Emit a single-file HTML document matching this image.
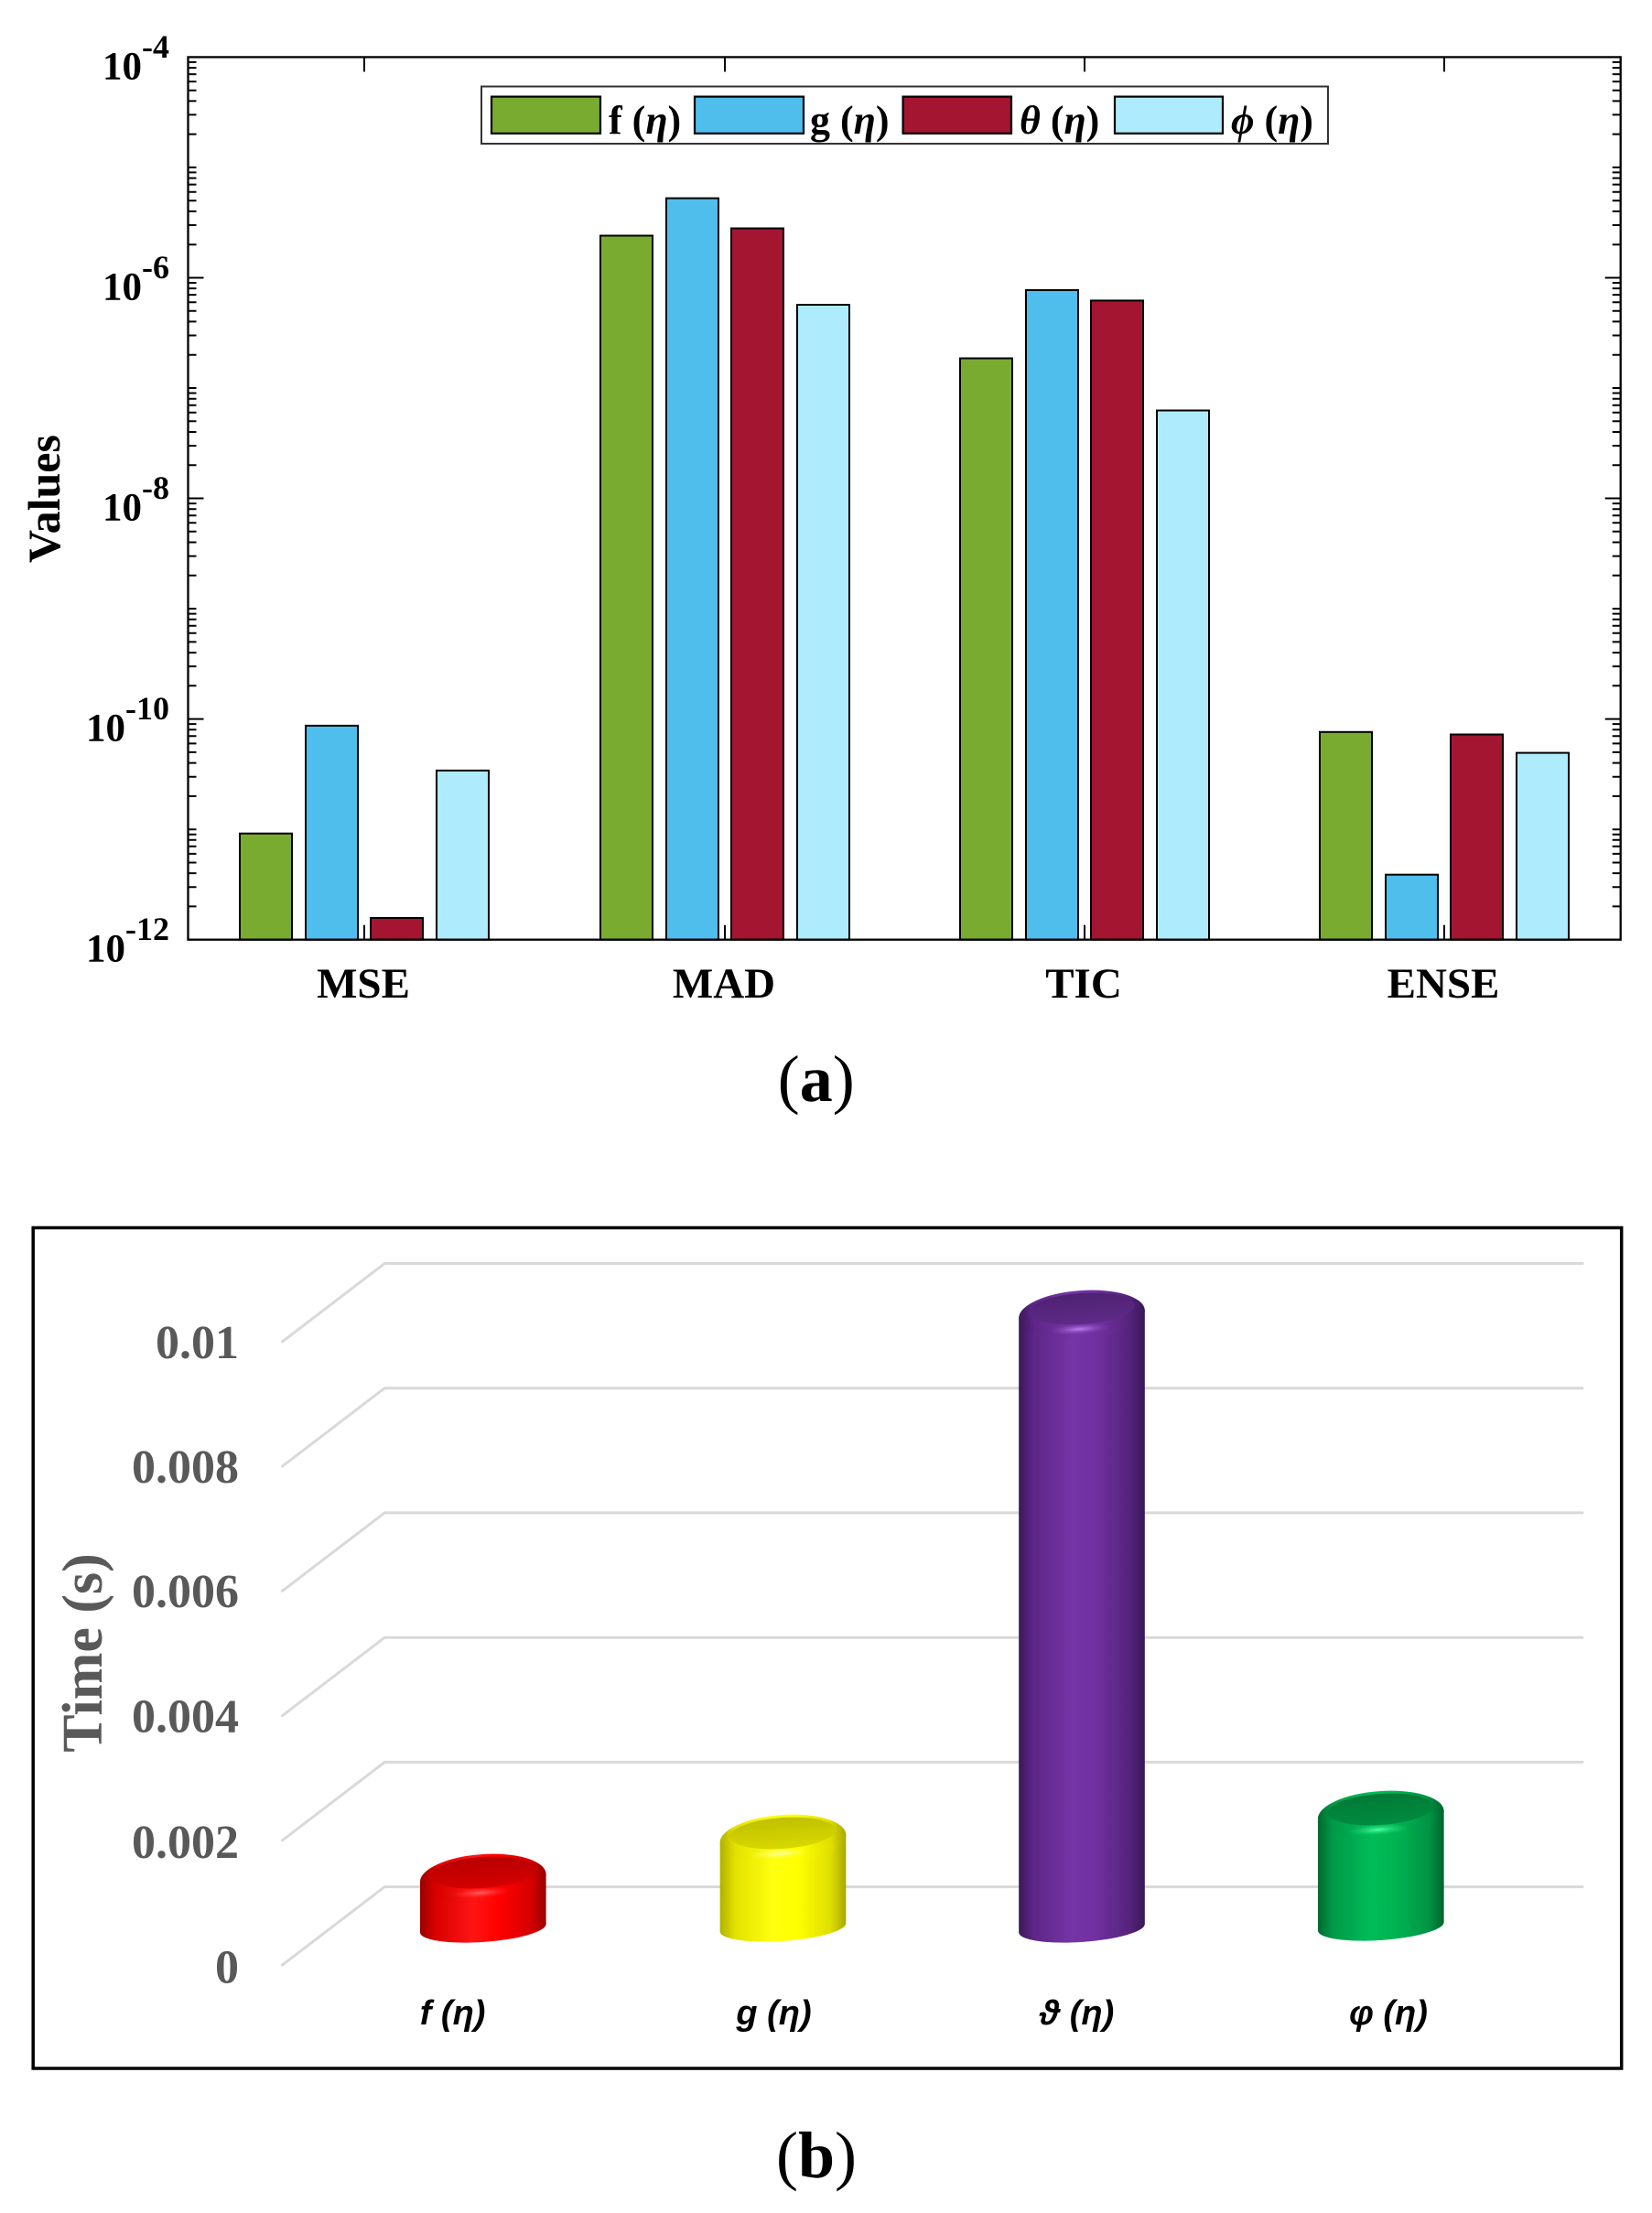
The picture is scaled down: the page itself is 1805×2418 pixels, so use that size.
<!DOCTYPE html>
<html>
<head>
<meta charset="utf-8">
<style>
html,body{margin:0;padding:0;background:#fff;}
body{width:1805px;height:2418px;overflow:hidden;}
svg{display:block;}
text{font-family:"Liberation Serif","Times New Roman",serif;}
</style>
</head>
<body>
<svg width="1805" height="2418" viewBox="0 0 1805 2418" xmlns="http://www.w3.org/2000/svg">
<defs>
  <linearGradient id="bR" x1="0" x2="1" y1="0" y2="0">
    <stop offset="0" stop-color="#9a0000"/><stop offset="0.12" stop-color="#d80000"/>
    <stop offset="0.42" stop-color="#ff1414"/><stop offset="0.62" stop-color="#ff0000"/>
    <stop offset="0.88" stop-color="#d60000"/><stop offset="1" stop-color="#980000"/>
  </linearGradient>
  <linearGradient id="bY" x1="0" x2="1" y1="0" y2="0">
    <stop offset="0" stop-color="#b0b000"/><stop offset="0.12" stop-color="#e2e200"/>
    <stop offset="0.42" stop-color="#ffff10"/><stop offset="0.62" stop-color="#ffff00"/>
    <stop offset="0.88" stop-color="#dede00"/><stop offset="1" stop-color="#a8a800"/>
  </linearGradient>
  <linearGradient id="bP" x1="0" x2="1" y1="0" y2="0">
    <stop offset="0" stop-color="#3c1858"/><stop offset="0.12" stop-color="#5e2688"/>
    <stop offset="0.42" stop-color="#7634a6"/><stop offset="0.62" stop-color="#7030a0"/>
    <stop offset="0.88" stop-color="#55237c"/><stop offset="1" stop-color="#3a1756"/>
  </linearGradient>
  <linearGradient id="bG" x1="0" x2="1" y1="0" y2="0">
    <stop offset="0" stop-color="#006a30"/><stop offset="0.12" stop-color="#009a48"/>
    <stop offset="0.42" stop-color="#00bc58"/><stop offset="0.62" stop-color="#00b452"/>
    <stop offset="0.88" stop-color="#009444"/><stop offset="1" stop-color="#00642c"/>
  </linearGradient>
  <linearGradient id="fR" x1="0" x2="0" y1="0" y2="1"><stop offset="0" stop-color="#b80000"/><stop offset="1" stop-color="#d40000"/></linearGradient>
  <linearGradient id="fY" x1="0" x2="0" y1="0" y2="1"><stop offset="0" stop-color="#c0c000"/><stop offset="1" stop-color="#d8d800"/></linearGradient>
  <linearGradient id="fP" x1="0" x2="0" y1="0" y2="1"><stop offset="0" stop-color="#4e2272"/><stop offset="1" stop-color="#5e2a88"/></linearGradient>
  <linearGradient id="fG" x1="0" x2="0" y1="0" y2="1"><stop offset="0" stop-color="#007a36"/><stop offset="1" stop-color="#008c40"/></linearGradient>
  <radialGradient id="hR"><stop offset="0" stop-color="#ff6060"/><stop offset="1" stop-color="#ff2020" stop-opacity="0"/></radialGradient>
  <radialGradient id="hY"><stop offset="0" stop-color="#ffffa0"/><stop offset="1" stop-color="#ffff40" stop-opacity="0"/></radialGradient>
  <radialGradient id="hP"><stop offset="0" stop-color="#c080f0"/><stop offset="1" stop-color="#8040b0" stop-opacity="0"/></radialGradient>
  <radialGradient id="hG"><stop offset="0" stop-color="#50ffa0"/><stop offset="1" stop-color="#10d070" stop-opacity="0"/></radialGradient>
  <g id="lt">
    <path stroke="#000" stroke-width="2" fill="none" d="
M205.5 990.4h9M205.5 969.2h9M205.5 954.1h9M205.5 942.5h9M205.5 932.9h9M205.5 924.8h9M205.5 917.8h9M205.5 911.7h9
M205.5 906.2h9
M205.5 869.9h9M205.5 848.7h9M205.5 833.6h9M205.5 821.9h9M205.5 812.4h9M205.5 804.3h9M205.5 797.3h9M205.5 791.1h9
M205.5 785.6h17
M205.5 749.3h9M205.5 728.1h9M205.5 713.1h9M205.5 701.4h9M205.5 691.8h9M205.5 683.8h9M205.5 676.8h9M205.5 670.6h9
M205.5 665.1h9
M205.5 628.8h9M205.5 607.6h9M205.5 592.5h9M205.5 580.8h9M205.5 571.3h9M205.5 563.2h9M205.5 556.2h9M205.5 550.1h9
M205.5 544.5h17
M205.5 508.3h9M205.5 487.0h9M205.5 472.0h9M205.5 460.3h9M205.5 450.7h9M205.5 442.7h9M205.5 435.7h9M205.5 429.5h9
M205.5 424.0h9
M205.5 387.7h9M205.5 366.5h9M205.5 351.4h9M205.5 339.8h9M205.5 330.2h9M205.5 322.1h9M205.5 315.1h9M205.5 309.0h9
M205.5 303.5h17
M205.5 267.2h9M205.5 246.0h9M205.5 230.9h9M205.5 219.2h9M205.5 209.7h9M205.5 201.6h9M205.5 194.6h9M205.5 188.4h9
M205.5 182.9h9
M205.5 146.6h9M205.5 125.4h9M205.5 110.4h9M205.5 98.7h9M205.5 89.1h9M205.5 81.1h9M205.5 74.1h9M205.5 67.9h9"/>
  </g>
</defs>

<rect width="1805" height="2418" fill="#fff"/>

<!-- ================= (a) ================= -->
<g stroke="#000" stroke-width="2">
  <rect x="262" y="910.7" width="57" height="116" fill="#7aab31"/>
  <rect x="334" y="792.9" width="57" height="233.8" fill="#4fbeed"/>
  <rect x="405" y="1003" width="57" height="23.7" fill="#a31531"/>
  <rect x="477" y="841.9" width="57" height="184.8" fill="#aeebfc"/>
  <rect x="656" y="257.5" width="57" height="769.2" fill="#7aab31"/>
  <rect x="728" y="216.6" width="57" height="810.1" fill="#4fbeed"/>
  <rect x="799" y="249.5" width="57" height="777.2" fill="#a31531"/>
  <rect x="871" y="333" width="57" height="693.7" fill="#aeebfc"/>
  <rect x="1049" y="391.5" width="57" height="635.2" fill="#7aab31"/>
  <rect x="1121" y="317" width="57" height="709.7" fill="#4fbeed"/>
  <rect x="1192" y="328.4" width="57" height="698.3" fill="#a31531"/>
  <rect x="1264" y="448.5" width="57" height="578.2" fill="#aeebfc"/>
  <rect x="1442" y="799.8" width="57" height="226.9" fill="#7aab31"/>
  <rect x="1514" y="955.7" width="57" height="71" fill="#4fbeed"/>
  <rect x="1585" y="802.5" width="57" height="224.2" fill="#a31531"/>
  <rect x="1657" y="822.6" width="57" height="204.1" fill="#aeebfc"/>
</g>

<rect x="205.5" y="62.4" width="1565.2" height="964.3" fill="none" stroke="#000" stroke-width="2.3"/>
<use href="#lt"/>
<use href="#lt" transform="translate(1976.2,0) scale(-1,1)"/>
<path stroke="#000" stroke-width="2" fill="none" d="M398 62.4v16M792 62.4v16M1185 62.4v16M1578 62.4v16M398 1026.7v-16M792 1026.7v-16M1185 1026.7v-16M1578 1026.7v-16"/>

<g font-weight="bold" font-size="43" text-anchor="end" fill="#000">
  <text x="185" y="86.4">10<tspan font-size="36" dy="-23.5">-4</tspan></text>
  <text x="185" y="327.5">10<tspan font-size="36" dy="-23.5">-6</tspan></text>
  <text x="185" y="568.5">10<tspan font-size="36" dy="-23.5">-8</tspan></text>
  <text x="185" y="809.6">10<tspan font-size="36" dy="-23.5">-10</tspan></text>
  <text x="185" y="1050.7">10<tspan font-size="36" dy="-23.5">-12</tspan></text>
</g>
<text transform="translate(65,545) rotate(-90)" text-anchor="middle" font-size="50" font-weight="bold">Values</text>

<g font-weight="bold" font-size="47" text-anchor="middle">
  <text x="397" y="1090">MSE</text>
  <text x="791" y="1090">MAD</text>
  <text x="1184" y="1090">TIC</text>
  <text x="1577" y="1090">ENSE</text>
</g>

<rect x="526" y="94.5" width="925" height="62.5" fill="#fff" stroke="#333" stroke-width="2"/>
<g stroke="#000" stroke-width="2.2">
  <rect x="537" y="105.6" width="119" height="40.2" fill="#7aab31"/>
  <rect x="759" y="105.6" width="119" height="40.2" fill="#4fbeed"/>
  <rect x="986.6" y="105.6" width="118.4" height="40.2" fill="#a31531"/>
  <rect x="1218" y="105.6" width="118" height="40.2" fill="#aeebfc"/>
</g>
<g font-size="44" font-weight="bold">
  <text x="665" y="146">f (<tspan font-style="italic">η</tspan>)</text>
  <text x="885" y="146">g (<tspan font-style="italic">η</tspan>)</text>
  <text x="1114" y="146"><tspan font-style="italic">θ</tspan> (<tspan font-style="italic">η</tspan>)</text>
  <text x="1345" y="146"><tspan font-style="italic">ϕ</tspan> (<tspan font-style="italic">η</tspan>)</text>
</g>

<text x="891.7" y="1203" text-anchor="middle" font-size="72">(<tspan font-weight="bold">a</tspan>)</text>

<!-- ================= (b) ================= -->
<rect x="36.2" y="1341.5" width="1735.5" height="918.5" fill="none" stroke="#000" stroke-width="3.5"/>

<g stroke="#d9d9d9" stroke-width="3" fill="none" stroke-linecap="round">
  <path d="M308.4 1466L420.3 1380.5H1729"/>
  <path d="M308.4 1602.2L420.3 1516.7H1729"/>
  <path d="M308.4 1738.4L420.3 1652.9H1729"/>
  <path d="M308.4 1874.7L420.3 1789.2H1729"/>
  <path d="M308.4 2010.9L420.3 1925.4H1729"/>
  <path d="M308.4 2147.1L420.3 2061.6H1729"/>
</g>

<g font-weight="bold" font-size="52" text-anchor="end" fill="#595959">
  <text x="261" y="1484">0.01</text>
  <text x="261" y="1620">0.008</text>
  <text x="261" y="1756">0.006</text>
  <text x="261" y="1892.5">0.004</text>
  <text x="261" y="2030">0.002</text>
  <text x="261" y="2166.5">0</text>
</g>
<text transform="translate(111,1806) rotate(-90)" text-anchor="middle" font-size="62" font-weight="bold" fill="#595959">Time (s)</text>

<!-- red: cyT 2052, cyB 2107 -->
<g transform="translate(527.8,0)">
  <path d="M-68.83 2056.81V2111.81A69 15 -4 0 0 68.83 2102.19V2047.19Z" fill="url(#bR)"/>
  <g transform="translate(0,2052) rotate(-4)">
    <ellipse rx="69" ry="26" fill="url(#bR)"/>
    <ellipse cy="-6" rx="58" ry="17" fill="url(#fR)"/>
    <ellipse cx="-4" cy="16" rx="34" ry="6" fill="url(#hR)"/>
  </g>
</g>
<!-- yellow: cyT 2009, cyB 2106 -->
<g transform="translate(855.5,0)">
  <path d="M-68.83 2013.81V2110.81A69 15 -4 0 0 68.83 2101.19V2004.19Z" fill="url(#bY)"/>
  <g transform="translate(0,2009) rotate(-4)">
    <ellipse rx="69" ry="26" fill="url(#bY)"/>
    <ellipse cy="-6" rx="58" ry="17" fill="url(#fY)"/>
    <ellipse cx="-4" cy="16" rx="34" ry="6" fill="url(#hY)"/>
  </g>
</g>
<!-- purple: cyT 1436, cyB 2107 -->
<g transform="translate(1182,0)">
  <path d="M-68.83 1440.81V2111.81A69 15 -4 0 0 68.83 2102.19V1431.19Z" fill="url(#bP)"/>
  <g transform="translate(0,1436) rotate(-4)">
    <ellipse rx="69" ry="26" fill="url(#bP)"/>
    <ellipse cy="-6" rx="58" ry="17" fill="url(#fP)"/>
    <ellipse cx="-4" cy="16" rx="34" ry="6" fill="url(#hP)"/>
  </g>
</g>
<!-- green: cyT 1983, cyB 2105 -->
<g transform="translate(1508.8,0)">
  <path d="M-68.83 1987.81V2109.81A69 15 -4 0 0 68.83 2100.19V1978.19Z" fill="url(#bG)"/>
  <g transform="translate(0,1983) rotate(-4)">
    <ellipse rx="69" ry="26" fill="url(#bG)"/>
    <ellipse cy="-6" rx="58" ry="17" fill="url(#fG)"/>
    <ellipse cx="-4" cy="16" rx="34" ry="6" fill="url(#hG)"/>
  </g>
</g>

<g font-size="38" font-weight="bold" font-style="italic" text-anchor="middle" fill="#000">
  <text x="494.6" y="2212" style="font-family:'Liberation Sans','DejaVu Sans',sans-serif">f (η)</text>
  <text x="845.5" y="2212" style="font-family:'Liberation Sans','DejaVu Sans',sans-serif">g (η)</text>
  <text x="1176.5" y="2212" style="font-family:'Liberation Sans','DejaVu Sans',sans-serif">ϑ (η)</text>
  <text x="1517" y="2212" style="font-family:'Liberation Sans','DejaVu Sans',sans-serif">φ (η)</text>
</g>

<text x="892" y="2379" text-anchor="middle" font-size="72">(<tspan font-weight="bold">b</tspan>)</text>
</svg>
</body>
</html>
